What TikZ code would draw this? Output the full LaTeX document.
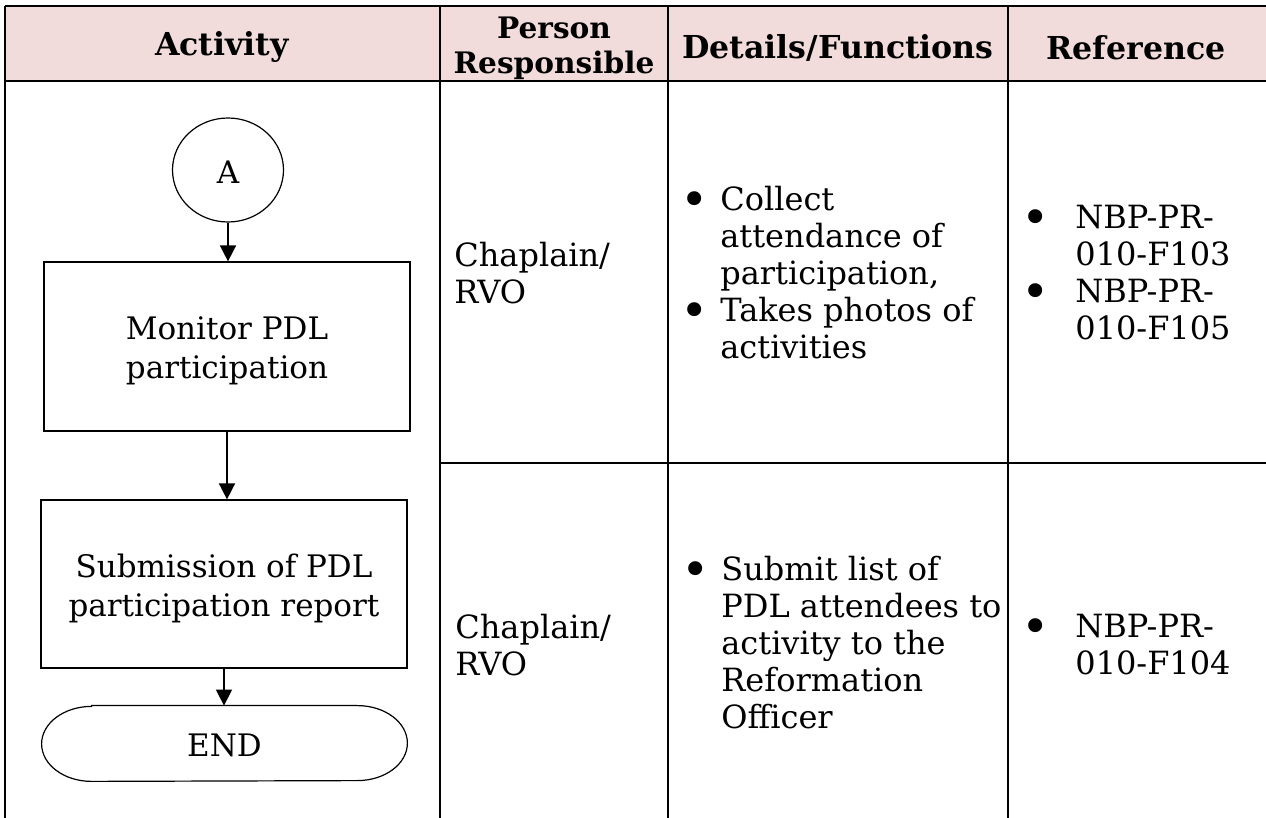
\documentclass[tikz,border=0pt]{standalone}
\usepackage{fontspec}
\setmainfont{DejaVu Serif}
\usetikzlibrary{arrows.meta,shapes.geometric}
\definecolor{hdr}{HTML}{F2DCDB}
\newcommand{\bigbul}{\raisebox{-3pt}{\scalebox{1.5}{•}}}
\newcommand{\lowtxt}[1]{\raisebox{-2.5pt}[\height][\depth]{\begin{tabular}{@{}c@{}}#1\end{tabular}}}
\begin{document}
\begin{tikzpicture}[x=0.5pt,y=-0.5pt,
  grid/.style={line width=1pt,black},
  shp/.style={draw,line width=0.6pt,inner sep=0pt},
  flow/.style={-{Triangle[length=8pt,width=8pt]},line width=0.8pt},
  hd/.style={font=\fontsize{15.8}{17.5}\selectfont\bfseries,align=center,inner sep=0pt},
  bd/.style={font=\fontsize{16}{18.5}\selectfont,inner sep=0pt,anchor=west},
  ft/.style={font=\fontsize{15.5}{19.5}\selectfont,align=center}]
\useasboundingbox (0,0) rectangle (1266,818);
% header background
\fill[hdr] (5,6) rectangle (1266,81);
% grid
\draw[grid] (5,6) -- (1266,6);
\draw[grid] (5,81) -- (1266,81);
\draw[grid] (440,463) -- (1266,463);
\foreach \x in {5,440,668,1008} \draw[grid] (\x,6) -- (\x,818);
% header texts
\node[hd] (h1) at (222,47.5) {Activity};
\node[hd,font=\fontsize{14.8}{17.5}\selectfont\bfseries] (h2) at (554,48) {Person\\Responsible};
\node[hd] (h3) at (838,47.5) {Details/Functions};
\node[hd] (h4) at (1136,47.5) {Reference};
% row 1
\node[bd] (p1) at (454,278) {\begin{tabular}{@{}l@{}}Chaplain/\\RVO\end{tabular}};
\node[bd] (d1) at (680,277.5) {\begin{tabular}{@{}l@{}l@{}}
\makebox[20pt][l]{\bigbul} & Collect\\
 & attendance of\\
 & participation,\\
\makebox[20pt][l]{\bigbul} & Takes photos of\\
 & activities\end{tabular}};
\node[bd] (r1) at (1021,277) {\begin{tabular}{@{}l@{}l@{}}
\makebox[27pt][l]{\bigbul} & NBP-PR-\\
 & 010-F103\\
\makebox[27pt][l]{\bigbul} & NBP-PR-\\
 & 010-F105\end{tabular}};
% row 2
\node[bd] (p2) at (455,650) {\begin{tabular}{@{}l@{}}Chaplain/\\RVO\end{tabular}};
\node[bd] (d2) at (681,647) {\begin{tabular}{@{}l@{}l@{}}
\makebox[20pt][l]{\bigbul} & Submit list of\\
 & PDL attendees to\\
 & activity to the\\
 & Reformation\\
 & Officer\end{tabular}};
\node[bd] (r2) at (1021,649) {\begin{tabular}{@{}l@{}l@{}}
\makebox[27pt][l]{\bigbul} & NBP-PR-\\
 & 010-F104\end{tabular}};
% flowchart
\node[shp,ellipse,ft,minimum width=55.5pt,minimum height=52pt] (A) at (228,170) {\raisebox{-1pt}[\height][\depth]{A}};
\node[shp,rectangle,ft,minimum width=183pt,minimum height=84.5pt] (box1) at (227,346.5) {\lowtxt{Monitor PDL\\participation}};
\node[shp,rectangle,ft,minimum width=183pt,minimum height=84pt] (box2) at (224,584) {\lowtxt{Submission of PDL\\participation report}};
\node[ft,inner sep=0pt,minimum width=182.5pt,minimum height=37.5pt] (fin) at (224.5,743.5) {\raisebox{-1pt}[\height][\depth]{END}};
\draw[line width=0.6pt] ([xshift=25pt]fin.north west) -- ([xshift=-25pt]fin.north east)
  arc[start angle=90,end angle=-90,x radius=25pt,y radius=18.75pt]
  -- ([xshift=25pt]fin.south west)
  arc[start angle=270,end angle=90,x radius=25pt,y radius=18.75pt] -- cycle;
\draw[flow] (A.south) -- (A.south |- box1.north);
\draw[flow] (box1.south) -- (box1.south |- box2.north);
\draw[flow] (box2.south) -- (box2.south |- fin.north);
\end{tikzpicture}
\end{document}
